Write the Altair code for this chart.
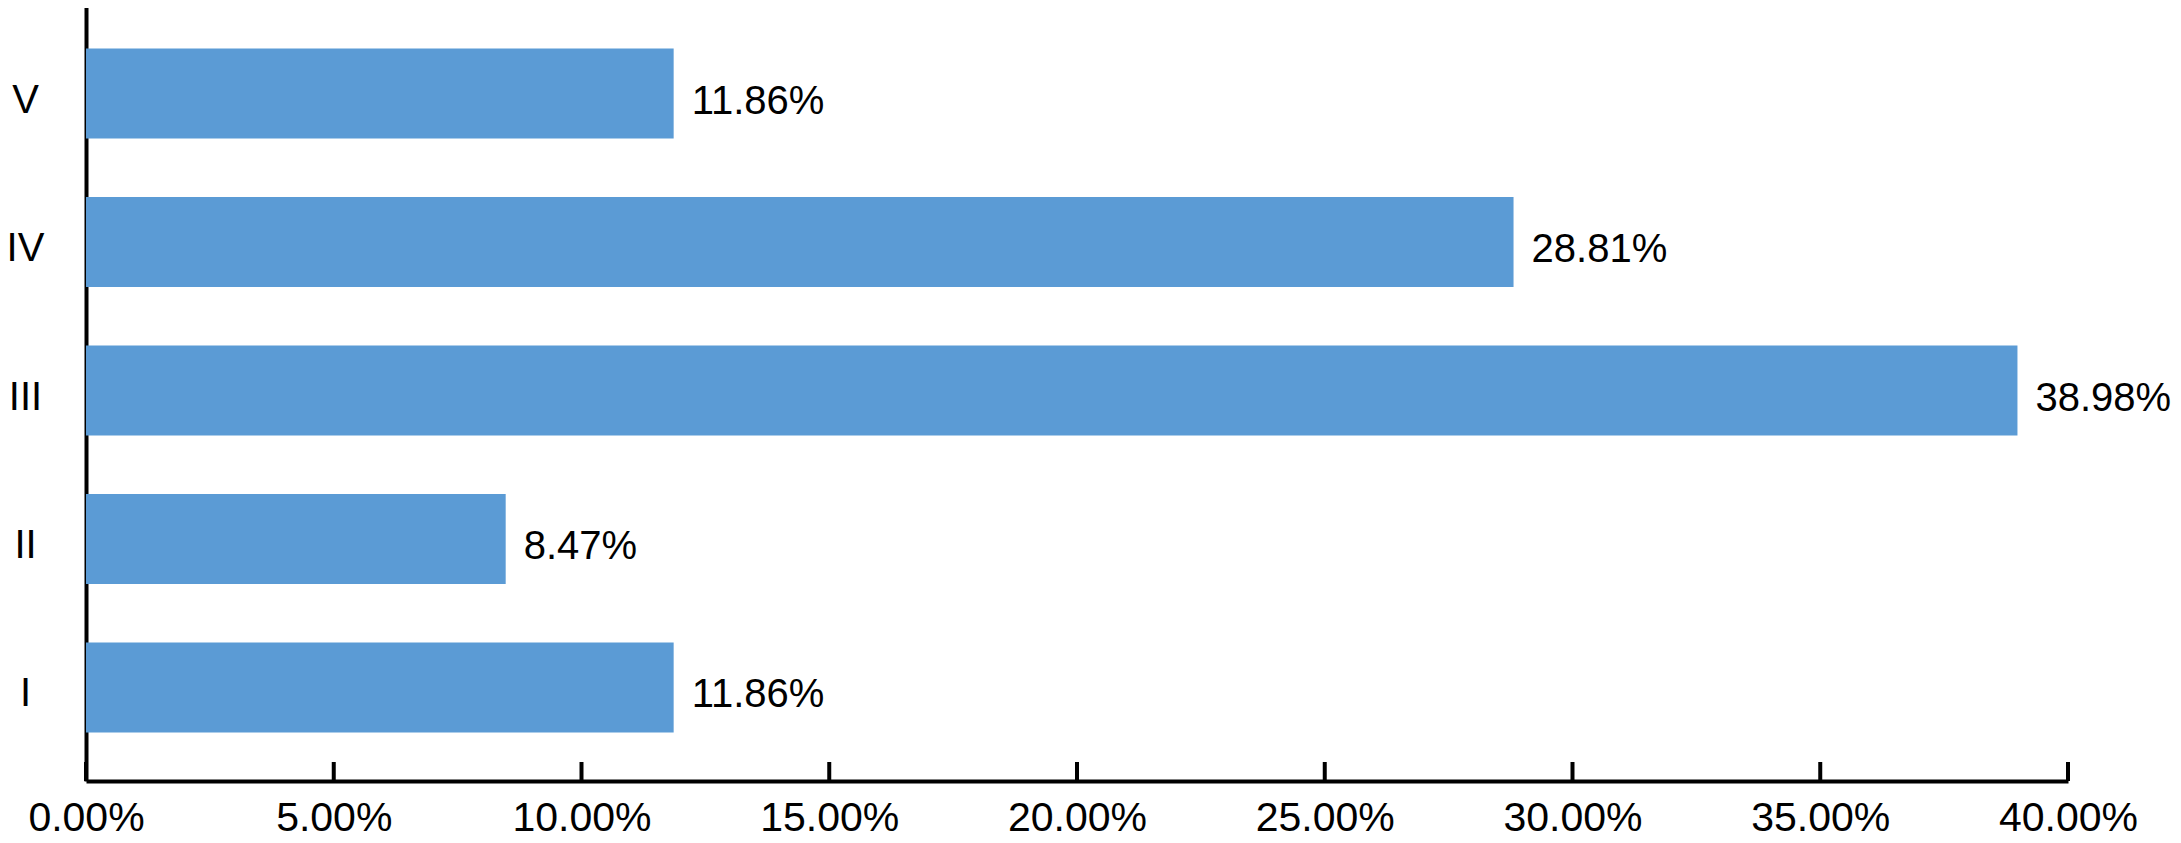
import altair as alt
import pandas as pd

categories = ["I", "II", "III", "IV", "V"]
values = [0.1186, 0.0847, 0.3898, 0.2881, 0.1186]
tick_values = [0.0, 0.05, 0.10, 0.15, 0.20, 0.25, 0.30, 0.35, 0.40]

df = pd.DataFrame({"cat": categories, "val": values})
ticks_df = pd.DataFrame({"t": tick_values})

FONT = "Liberation Sans"
H = 781
W = 1982
order = ["V", "IV", "III", "II", "I"]

xscale = alt.Scale(domain=[0, 0.4], nice=False, zero=True)
yscale = alt.Scale(domain=order, paddingInner=0.394, paddingOuter=0.327)

bars = alt.Chart(df).mark_bar(color="#5B9BD5").encode(
    x=alt.X("val:Q", scale=xscale,
            axis=alt.Axis(values=tick_values, format=".2%", title=None, grid=False,
                          tickSize=0, labelPadding=17, labelFontSize=41, labelFont=FONT,
                          labelColor="black", domainColor="black", domainWidth=4,
                          labelFlush=False, labelOverlap=False)),
    y=alt.Y("cat:N", scale=yscale, sort=order,
            axis=alt.Axis(title=None, tickSize=0, labelPadding=61, labelAlign="center",
                          labelBaseline="middle", labelOffset=7, labelFontSize=40,
                          labelFont=FONT, labelColor="black", domainColor="black",
                          domainWidth=4)),
)

text = alt.Chart(df).mark_text(align="left", baseline="middle", dx=18, dy=8, fontSize=40,
                               font=FONT, color="black").encode(
    x=alt.X("val:Q", scale=xscale),
    y=alt.Y("cat:N", scale=yscale, sort=order),
    text=alt.Text("val:Q", format=".2%"),
)

tickmarks = alt.Chart(ticks_df).mark_rule(color="black", strokeWidth=4).encode(
    x=alt.X("t:Q", scale=xscale),
    y=alt.value(H - 19),
    y2=alt.value(H),
)

chart = alt.layer(bars, text, tickmarks).properties(
    width=W, height=H,
    autosize=alt.AutoSizeParams(type="none"),
    padding={"left": 78, "top": -8, "right": 105, "bottom": 58},
).configure(background="white").configure_view(stroke=None)

chart.save("out.html", embed_options={"renderer": "svg", "actions": False})
